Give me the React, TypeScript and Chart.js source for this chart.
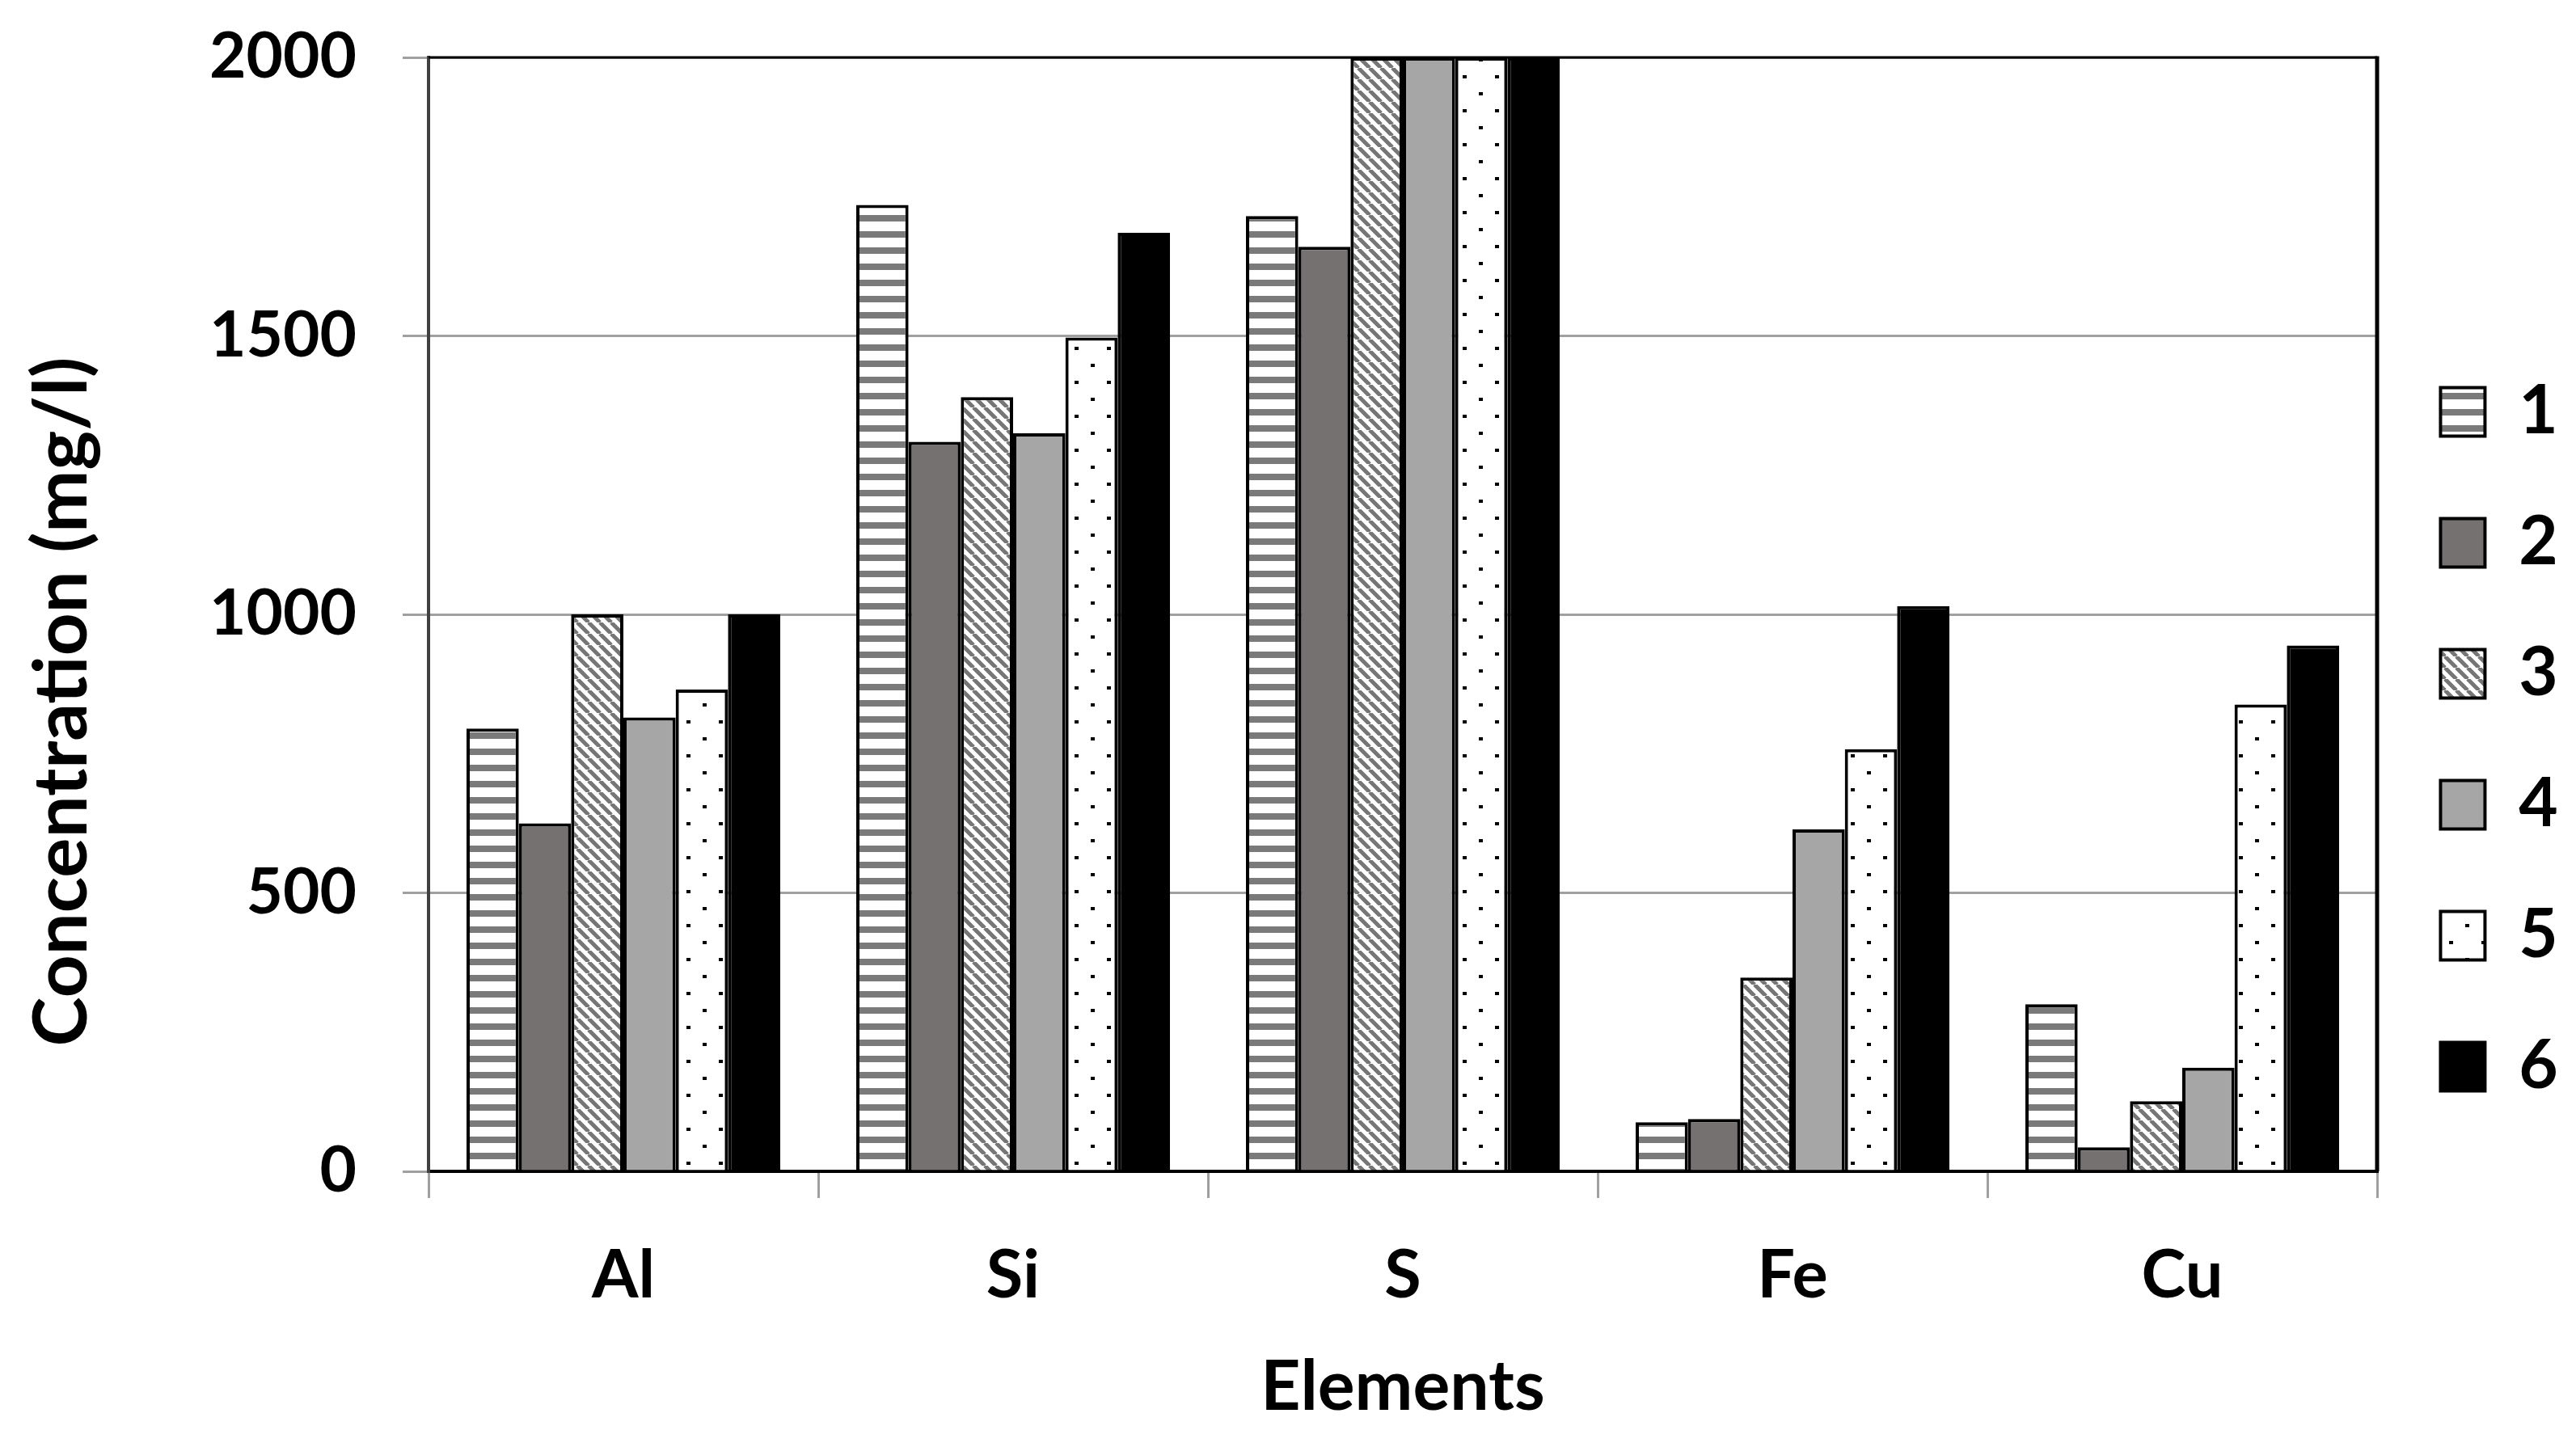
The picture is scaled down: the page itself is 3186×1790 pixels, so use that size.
import React, { useEffect, useRef } from 'react';
import { Chart, registerables } from 'chart.js';

Chart.register(...registerables);

const categories = ['Al', 'Si', 'S', 'Fe', 'Cu'];
const seriesLabels = ['1', '2', '3', '4', '5', '6'];
const series1 = [795, 1735, 1715, 88, 300];
const series2 = [625, 1310, 1660, 94, 43];
const series3 = [1000, 1390, 2000, 348, 126];
const series4 = [815, 1325, 2000, 614, 186];
const series5 = [865, 1497, 2000, 758, 838];
const series6 = [1000, 1685, 2000, 1015, 944];
const yMin = 0;
const yMax = 2000;
const yStep = 500;
const yTickLabels = ['0', '500', '1000', '1500', '2000'];
const yTitle = 'Concentration (mg/l)';
const xTitle = 'Elements';

const FONT = 'Lato, "Liberation Sans", Arial, sans-serif';

function makePattern(kind: string): CanvasPattern | string {
  const c = document.createElement('canvas');
  const ctx = c.getContext('2d');
  if (!ctx) return '#fff';
  if (kind === 'hstripe') {
    c.width = 20; c.height = 20;
    ctx.fillStyle = '#ffffff';
    ctx.fillRect(0, 0, 20, 20);
    ctx.fillStyle = '#7a7a7a';
    ctx.fillRect(0, 6, 20, 8);
  } else if (kind === 'diag') {
    const s = 14;
    c.width = s; c.height = s;
    ctx.fillStyle = '#ffffff';
    ctx.fillRect(0, 0, s, s);
    ctx.strokeStyle = '#767676';
    ctx.lineWidth = 5;
    ctx.beginPath();
    for (const k of [-s, 0, s]) {
      ctx.moveTo(k, 0);
      ctx.lineTo(k + s, s);
    }
    ctx.stroke();
  } else if (kind === 'dots') {
    c.width = 40; c.height = 42;
    ctx.fillStyle = '#ffffff';
    ctx.fillRect(0, 0, 40, 42);
    ctx.fillStyle = '#000000';
    ctx.fillRect(9, 9, 5, 4);
    ctx.fillRect(29, 30, 5, 4);
  }
  const p = ctx.createPattern(c, 'repeat');
  return p || '#fff';
}

const framePlugin = {
  id: 'frame',
  afterDatasetsDraw(chart: any) {
    const { ctx, chartArea } = chart;
    ctx.save();
    ctx.strokeStyle = '#000';
    ctx.lineWidth = 3;
    ctx.beginPath();
    ctx.moveTo(chartArea.left, chartArea.top);
    ctx.lineTo(chartArea.right, chartArea.top);
    ctx.stroke();
    ctx.lineWidth = 5;
    ctx.beginPath();
    ctx.moveTo(chartArea.right, chartArea.top - 1.5);
    ctx.lineTo(chartArea.right, chartArea.bottom);
    ctx.stroke();
    ctx.restore();
  },
};

export default function App() {
  const ref = useRef<HTMLCanvasElement | null>(null);

  useEffect(() => {
    if (!ref.current) return;
    const mctx = ref.current.getContext('2d') as CanvasRenderingContext2D;
    const setF = (size: number) => { mctx.font = `bold ${size}px ${FONT}`; };
    const ink = (t: string, size: number) => {
      setF(size);
      const m = mctx.measureText(t);
      return m.actualBoundingBoxLeft + m.actualBoundingBoxRight;
    };
    const adv = (t: string, size: number) => { setF(size); return mctx.measureText(t).width; };
    const asc = (t: string, size: number) => { setF(size); return mctx.measureText(t).actualBoundingBoxAscent; };
    const fit = (t: string, target: number) => (100 * target) / ink(t, 100);

    const tickSize = fit('2000', 178);
    const catSize = fit('Cu', 94);
    const xTitleSize = fit(xTitle, 342);
    const yTitleSize = fit(yTitle, 847);
    const legendSize = (100 * 61) / asc('1', 100);

    const yLabelW = Math.max(...yTickLabels.map((t) => adv(t, tickSize)));
    const padLeft = 530 - 32 - 2 * 57 - yLabelW;
    const legendTextW = Math.max(...seriesLabels.map((t) => adv(t, legendSize)));
    const itemH = Math.max(legendSize, 60);
    const legendPad = 162 - itemH;
    const legendWidth = legendPad + 55 + legendSize / 2 + legendTextW + 10;
    const padRight = 3186 - 2940 - legendWidth;
    const catPad = 96 - 0.6 * catSize;

    const yTitlePlugin = {
      id: 'yTitle',
      afterDraw(chart: any) {
        const { ctx } = chart;
        ctx.save();
        ctx.translate(107, 868);
        ctx.rotate(-Math.PI / 2);
        ctx.font = `bold ${yTitleSize}px ${FONT}`;
        ctx.fillStyle = '#000';
        ctx.textAlign = 'center';
        ctx.textBaseline = 'alphabetic';
        ctx.fillText(yTitle, 0, 0);
        ctx.restore();
      },
    };

    const fills = [
      makePattern('hstripe'),
      '#767171',
      makePattern('diag'),
      '#a6a6a6',
      makePattern('dots'),
      '#000000',
    ];
    const allSeries = [series1, series2, series3, series4, series5, series6];
    const chart = new Chart(ref.current, {
      type: 'bar',
      data: {
        labels: categories,
        datasets: allSeries.map((d, i) => ({
          label: seriesLabels[i],
          data: d,
          backgroundColor: fills[i] as any,
          borderColor: '#000000',
          borderWidth: 4,
        })),
      },
      options: {
        animation: false,
        responsive: false,
        devicePixelRatio: 1,
        datasets: { bar: { categoryPercentage: 0.805, barPercentage: 1.0 } },
        layout: { padding: { left: padLeft, right: padRight, top: 71, bottom: 32 } },
        plugins: {
          tooltip: { enabled: false },
          title: { display: false },
          legend: {
            position: 'right',
            align: 'center',
            labels: {
              boxWidth: 55,
              boxHeight: 60,
              padding: legendPad,
              color: '#000',
              font: { family: FONT, size: legendSize, weight: 'bold' },
            },
          },
        },
        scales: {
          x: {
            grid: {
              display: true,
              drawOnChartArea: false,
              drawTicks: true,
              tickLength: 33,
              color: '#a0a0a0',
              lineWidth: 3,
              offset: true,
            },
            border: { display: true, color: '#000', width: 4 },
            ticks: {
              color: '#000',
              padding: catPad,
              font: { family: FONT, size: catSize, weight: 'bold', lineHeight: 1.2 },
            },
            title: {
              display: true,
              text: xTitle,
              color: '#000',
              padding: { top: 0, bottom: 0 },
              font: { family: FONT, size: xTitleSize, weight: 'bold', lineHeight: 84 / xTitleSize },
            },
          },
          y: {
            min: yMin,
            max: yMax,
            ticks: {
              stepSize: yStep,
              color: '#000',
              padding: 57,
              callback: (v: any) => String(v),
              font: { family: FONT, size: tickSize, weight: 'bold', lineHeight: 20 / tickSize },
            },
            grid: { color: '#a0a0a0', lineWidth: 3, tickLength: 32 },
            border: { display: true, color: '#404040', width: 4 },
          },
        },
      },
      plugins: [framePlugin, yTitlePlugin],
    });
    return () => chart.destroy();
  }, []);

  return (
    <div style={{ position: 'absolute', left: 0, top: 0, width: 3186, height: 1790, background: '#fff' }}>
      <canvas ref={ref} width={3186} height={1790} />
    </div>
  );
}
